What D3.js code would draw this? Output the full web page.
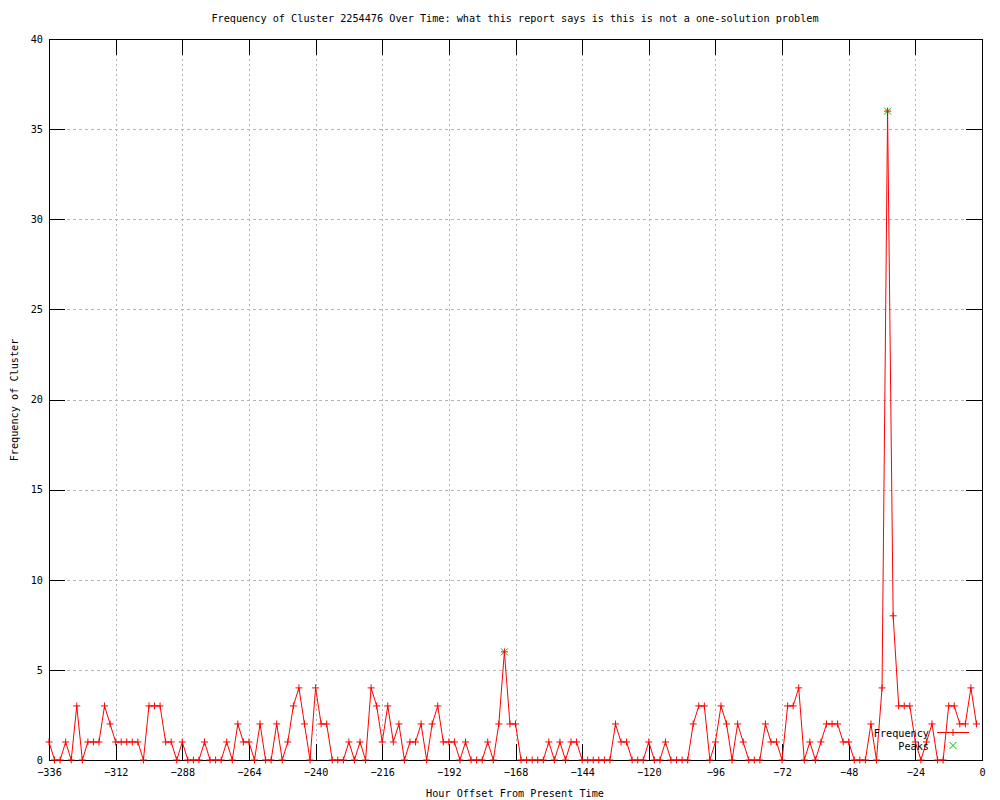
<!DOCTYPE html>
<html>
<head>
<meta charset="utf-8">
<script src="https://cdn.jsdelivr.net/npm/d3@7"></script>
<style>
  body { margin: 0; background: #fff; }
  text { font-family: "DejaVu Sans Mono", monospace; font-size: 10.2px; fill: #000; }
</style>
</head>
<body>
<div id="viz"></div>
<script>
// hours before now, one reading every 2 hours
const hours = [
  -336, -334, -332, -330, -328, -326, -324, -322, -320, -318, -316, -314,
  -312, -310, -308, -306, -304, -302, -300, -298, -296, -294, -292, -290,
  -288, -286, -284, -282, -280, -278, -276, -274, -272, -270, -268, -266,
  -264, -262, -260, -258, -256, -254, -252, -250, -248, -246, -244, -242,
  -240, -238, -236, -234, -232, -230, -228, -226, -224, -222, -220, -218,
  -216, -214, -212, -210, -208, -206, -204, -202, -200, -198, -196, -194,
  -192, -190, -188, -186, -184, -182, -180, -178, -176, -174, -172, -170,
  -168, -166, -164, -162, -160, -158, -156, -154, -152, -150, -148, -146,
  -144, -142, -140, -138, -136, -134, -132, -130, -128, -126, -124, -122,
  -120, -118, -116, -114, -112, -110, -108, -106, -104, -102, -100, -98,
  -96, -94, -92, -90, -88, -86, -84, -82, -80, -78, -76, -74,
  -72, -70, -68, -66, -64, -62, -60, -58, -56, -54, -52, -50,
  -48, -46, -44, -42, -40, -38, -36, -34, -32, -30, -28, -26,
  -24, -22, -20, -18, -16, -14, -12, -10, -8, -6, -4, -2
]
const frequency = [
  1, 0, 0, 1, 0, 3, 0, 1, 1, 1, 3, 2,
  1, 1, 1, 1, 1, 0, 3, 3, 3, 1, 1, 0,
  1, 0, 0, 0, 1, 0, 0, 0, 1, 0, 2, 1,
  1, 0, 2, 0, 0, 2, 0, 1, 3, 4, 2, 0,
  4, 2, 2, 0, 0, 0, 1, 0, 1, 0, 4, 3,
  1, 3, 1, 2, 0, 1, 1, 2, 0, 2, 3, 1,
  1, 1, 0, 1, 0, 0, 0, 1, 0, 2, 6, 2,
  2, 0, 0, 0, 0, 0, 1, 0, 1, 0, 1, 1,
  0, 0, 0, 0, 0, 0, 2, 1, 1, 0, 0, 0,
  1, 0, 0, 1, 0, 0, 0, 0, 2, 3, 3, 0,
  1, 3, 2, 0, 2, 1, 0, 0, 0, 2, 1, 1,
  0, 3, 3, 4, 0, 1, 0, 1, 2, 2, 2, 1,
  1, 0, 0, 0, 2, 0, 4, 36, 8, 3, 3, 3,
  1, 0, 1, 2, 0, 0, 3, 3, 2, 2, 4, 2
]
const peakHours = [-172, -34]
const peakValues = [6, 36]

const xTicks = [-336, -312, -288, -264, -240, -216, -192, -168, -144, -120, -96, -72, -48, -24, 0]
const yTicks = [0, 5, 10, 15, 20, 25, 30, 35, 40]

const titleText = 'Frequency of Cluster 2254476 Over Time: what this report says is this is not a one-solution problem'

let dimensions = {
  width: 1000,
  height: 800,
  margin: { top: 39, right: 18, bottom: 40, left: 49 },
}
dimensions.boundedWidth = dimensions.width - dimensions.margin.left - dimensions.margin.right
dimensions.boundedHeight = dimensions.height - dimensions.margin.top - dimensions.margin.bottom

const tickLen = 16

const wrapper = d3.select('#viz')
  .append('svg')
  .attr('width', dimensions.width)
  .attr('height', dimensions.height)

const chart = wrapper.append('g')
  .attr('transform', `translate(${dimensions.margin.left},${dimensions.margin.top})`)

// scales
const xScale = d3.scaleLinear()
  .domain([-336, 0])
  .range([0, dimensions.boundedWidth])

const yScale = d3.scaleLinear()
  .domain([0, 40])
  .range([dimensions.boundedHeight, 0])

// dotted grid
chart.append('g')
  .selectAll('line')
  .data(xTicks.slice(1, -1))
  .join('line')
  .attr('x1', d => Math.round(xScale(d)) + 0.5)
  .attr('x2', d => Math.round(xScale(d)) + 0.5)
  .attr('y1', 0)
  .attr('y2', dimensions.boundedHeight)
  .attr('stroke', '#b4b4b4')
  .attr('stroke-dasharray', '2,3')

chart.append('g')
  .selectAll('line')
  .data(yTicks.slice(1, -1))
  .join('line')
  .attr('x1', 0)
  .attr('x2', dimensions.boundedWidth)
  .attr('y1', d => Math.round(yScale(d)) + 0.5)
  .attr('y2', d => Math.round(yScale(d)) + 0.5)
  .attr('stroke', '#b4b4b4')
  .attr('stroke-dasharray', '3,3')

// axes, ticks pointing inward and mirrored
const xAxis = chart.append('g')
  .attr('transform', `translate(0,${dimensions.boundedHeight})`)
  .call(d3.axisBottom(xScale).tickValues(xTicks).tickFormat(d3.format('d'))
    .tickSizeInner(-tickLen).tickSizeOuter(0).tickPadding(9))

const xAxisTop = chart.append('g')
  .call(d3.axisTop(xScale).tickValues(xTicks).tickFormat('')
    .tickSizeInner(-tickLen).tickSizeOuter(0))

const yAxis = chart.append('g')
  .call(d3.axisLeft(yScale).tickValues(yTicks).tickFormat(d3.format('d'))
    .tickSizeInner(-tickLen).tickSizeOuter(0).tickPadding(6))

const yAxisRight = chart.append('g')
  .attr('transform', `translate(${dimensions.boundedWidth},0)`)
  .call(d3.axisRight(yScale).tickValues(yTicks).tickFormat('')
    .tickSizeInner(-tickLen).tickSizeOuter(0))

chart.selectAll('.domain').remove()
chart.selectAll('.tick line').attr('stroke', '#000').attr('shape-rendering', 'crispEdges')
chart.selectAll('.tick text')
  .style('font-family', '"DejaVu Sans Mono", monospace')
  .style('font-size', '10.2px')
  .attr('fill', '#000')

// frame
chart.append('rect')
  .attr('x', 0.5)
  .attr('y', 0.5)
  .attr('width', dimensions.boundedWidth)
  .attr('height', dimensions.boundedHeight)
  .attr('fill', 'none')
  .attr('stroke', '#000')
  .attr('shape-rendering', 'crispEdges')

// frequency line
const points = hours.map((h, i) => ({ hour: h, value: frequency[i] }))
const peaks = peakHours.map((h, i) => ({ hour: h, value: peakValues[i] }))

const lineGenerator = d3.line()
  .x(d => xScale(d.hour))
  .y(d => yScale(d.value))

chart.append('path')
  .attr('d', lineGenerator(points))
  .attr('fill', 'none')
  .attr('stroke', '#ff0000')
  .attr('stroke-width', 1)

const s = 3.5
const plusPath = `M${-s},0H${s}M0,${-s}V${s}`
const crossPath = `M${-s},${-s}L${s},${s}M${-s},${s}L${s},${-s}`

// peaks under the red markers
chart.append('g')
  .selectAll('path')
  .data(peaks)
  .join('path')
  .attr('transform', d => `translate(${xScale(d.hour)},${yScale(d.value)})`)
  .attr('d', crossPath)
  .attr('stroke', '#00c000')
  .attr('stroke-width', 1)

chart.append('g')
  .selectAll('path')
  .data(points)
  .join('path')
  .attr('transform', d => `translate(${xScale(d.hour)},${yScale(d.value)})`)
  .attr('d', plusPath)
  .attr('stroke', '#ff0000')
  .attr('stroke-width', 1)

// legend
const legend = wrapper.append('g')

legend.append('text')
  .attr('x', 929)
  .attr('y', 733)
  .attr('dy', '0.35em')
  .attr('text-anchor', 'end')
  .text('Frequency')

legend.append('line')
  .attr('x1', 937).attr('x2', 969)
  .attr('y1', 732.5).attr('y2', 732.5)
  .attr('stroke', '#ff0000')

legend.append('path')
  .attr('transform', 'translate(953,732.5)')
  .attr('d', plusPath)
  .attr('stroke', '#ff0000')

legend.append('text')
  .attr('x', 929)
  .attr('y', 746)
  .attr('dy', '0.35em')
  .attr('text-anchor', 'end')
  .text('Peaks')

legend.append('path')
  .attr('transform', 'translate(953,745.5)')
  .attr('d', crossPath)
  .attr('stroke', '#00c000')

// titles
wrapper.append('text')
  .attr('x', 515)
  .attr('y', 18)
  .attr('dy', '0.35em')
  .attr('text-anchor', 'middle')
  .text(titleText)

wrapper.append('text')
  .attr('x', 515)
  .attr('y', 793)
  .attr('dy', '0.35em')
  .attr('text-anchor', 'middle')
  .text('Hour Offset From Present Time')

wrapper.append('text')
  .attr('transform', 'translate(14,400) rotate(-90)')
  .attr('dy', '0.35em')
  .attr('text-anchor', 'middle')
  .text('Frequency of Cluster')
</script>
</body>
</html>
